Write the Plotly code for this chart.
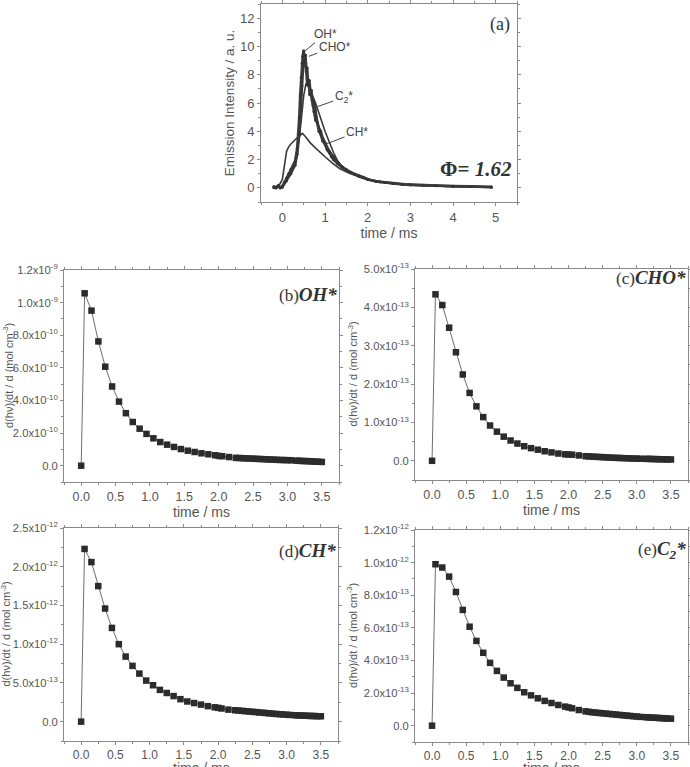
import plotly.graph_objects as go

W, H = 690, 767

# ---------------- panel (a) data: emission intensity (a.u.) vs time (ms)
oh_x = [-0.2,-0.15,-0.1,-0.05,0.0,0.05,0.1,0.15,0.2,0.25,0.3,0.35,0.38,0.4,0.42,0.44,0.46,0.48,0.5,0.52,
        0.54,0.56,0.58,0.6,0.63,0.66,0.7,0.74,0.78,0.82,0.86,0.9,0.95,1.0,1.05,1.1,1.15,1.2,1.3,1.4,
        1.5,1.6,1.7,1.8,1.9,2.0,2.2,2.4,2.6,2.8,3.0,3.3,3.6,4.0,4.4,4.9]
oh_y = [0.1,0.0,0.15,0.0,0.1,0.4,0.7,1.0,1.3,1.5,1.8,2.8,3.8,5.0,6.5,7.8,8.8,9.3,9.7,9.0,
        9.4,8.2,8.5,7.4,7.6,6.7,6.2,5.4,4.8,4.6,4.0,3.8,3.3,3.1,2.7,2.5,2.2,2.0,1.7,1.45,
        1.25,1.1,0.95,0.85,0.75,0.6,0.45,0.38,0.3,0.25,0.22,0.18,0.15,0.12,0.1,0.06]

cho_x = [-0.2,-0.1,0.0,0.1,0.2,0.3,0.35,0.4,0.43,0.46,0.49,0.52,0.55,0.58,0.61,0.64,0.68,0.72,0.76,0.8,
         0.85,0.9,0.95,1.0,1.1,1.2,1.3,1.4,1.5,1.6,1.8,2.0,2.3,2.6,3.0,3.5,4.0,4.5,4.9]
cho_y = [0.0,0.1,0.05,0.5,1.0,1.6,2.4,3.8,5.5,7.2,8.6,9.3,8.8,7.3,7.6,6.6,6.9,5.8,6.0,5.0,
         4.3,4.0,3.5,3.2,2.6,2.2,1.8,1.5,1.3,1.1,0.8,0.6,0.42,0.32,0.22,0.16,0.12,0.09,0.05]

c2_x = [-0.2,0.0,0.1,0.2,0.3,0.35,0.4,0.45,0.5,0.55,0.6,0.65,0.8,1.0,1.2,1.3,1.4,1.6,1.8,2.0,
        2.5,3.0,3.5,4.0,4.5,4.9]
c2_y = [0.0,0.1,0.7,1.3,2.0,2.6,3.6,5.0,6.5,7.3,7.2,7.0,5.8,4.0,2.5,1.9,1.5,1.1,0.8,0.6,
        0.32,0.2,0.14,0.1,0.07,0.05]

ch_x = [-0.2,-0.1,0.0,0.05,0.1,0.15,0.2,0.3,0.4,0.47,0.55,0.65,0.75,0.87,1.0,1.18,1.35,1.57,1.75,1.9,
        2.2,2.5,3.0,3.5,4.0,4.5,4.9]
ch_y = [0.0,0.05,0.6,1.6,2.6,2.9,3.1,3.4,3.7,3.85,3.6,3.2,2.9,2.55,2.2,1.73,1.35,1.03,0.82,0.68,
        0.48,0.33,0.2,0.13,0.09,0.07,0.05]

# ---------------- panels (b)-(e): d(hv)/dt / d vs time (ms)
t = [0, 0.05, 0.15, 0.25, 0.35, 0.45, 0.55, 0.65, 0.75, 0.85, 0.95, 1.05, 1.15, 1.25, 1.35, 1.45,
     1.55, 1.65, 1.75, 1.85, 1.95, 2.0, 2.05, 2.15,
     2.25, 2.3, 2.35, 2.4, 2.45, 2.5, 2.55, 2.6, 2.65, 2.7, 2.75, 2.8, 2.85, 2.9, 2.95, 3.0, 3.05,
     3.13, 3.17, 3.21, 3.25, 3.29, 3.33, 3.37, 3.41, 3.45, 3.5]

oh_rate = [0, 10.57, 9.51, 7.62, 6.07, 4.86, 3.93, 3.22, 2.68, 2.27, 1.95, 1.68, 1.45, 1.29, 1.15, 1.02,
           0.92, 0.84, 0.76, 0.70, 0.64, 0.60, 0.58, 0.53,
           0.48, 0.47, 0.46, 0.45, 0.44, 0.43, 0.42, 0.41, 0.40, 0.39, 0.38, 0.37, 0.36, 0.35, 0.345, 0.34, 0.33,
           0.31, 0.30, 0.29, 0.285, 0.28, 0.27, 0.26, 0.25, 0.24, 0.23]          # x 1e-10
cho_rate = [0, 4.34, 4.06, 3.47, 2.83, 2.25, 1.77, 1.42, 1.14, 0.92, 0.76, 0.63, 0.53, 0.45, 0.38, 0.33,
            0.29, 0.25, 0.22, 0.19, 0.17, 0.165, 0.16, 0.14,
            0.12, 0.115, 0.11, 0.105, 0.10, 0.095, 0.09, 0.085, 0.08, 0.077, 0.074, 0.07, 0.067, 0.064, 0.06, 0.057, 0.055,
            0.052, 0.05, 0.048, 0.046, 0.044, 0.042, 0.04, 0.038, 0.037, 0.035]   # x 1e-13
ch_rate = [0, 2.23, 2.06, 1.75, 1.46, 1.21, 1.00, 0.84, 0.72, 0.62, 0.53, 0.47, 0.41, 0.37, 0.33, 0.29,
           0.26, 0.24, 0.22, 0.20, 0.185, 0.178, 0.17, 0.155,
           0.147, 0.143, 0.139, 0.135, 0.131, 0.127, 0.123, 0.119, 0.115, 0.111, 0.107, 0.103, 0.099, 0.096, 0.093, 0.089, 0.086,
           0.082, 0.08, 0.079, 0.077, 0.076, 0.074, 0.073, 0.072, 0.07, 0.069]   # x 1e-12
c2_rate = [0, 0.99, 0.97, 0.914, 0.82, 0.71, 0.607, 0.52, 0.447, 0.385, 0.336, 0.295, 0.26, 0.232, 0.205, 0.186,
           0.168, 0.152, 0.139, 0.127, 0.117, 0.112, 0.107, 0.096,
           0.088, 0.085, 0.082, 0.08, 0.078, 0.076, 0.074, 0.072, 0.07, 0.068, 0.066, 0.064, 0.062, 0.06, 0.058, 0.056, 0.054,
           0.052, 0.051, 0.05, 0.049, 0.048, 0.047, 0.046, 0.045, 0.044, 0.043]  # x 1e-12

b_ticks = [0, 2e-10, 4e-10, 6e-10, 8e-10, 1.0e-9, 1.2e-9]
b_labels = ["0.0", "2.0x10<sup>-10</sup>", "4.0x10<sup>-10</sup>", "6.0x10<sup>-10</sup>",
            "8.0x10<sup>-10</sup>", "1.0x10<sup>-9</sup>", "1.2x10<sup>-9</sup>"]
c_ticks = [0, 1e-13, 2e-13, 3e-13, 4e-13, 5e-13]
c_labels = ["0.0", "1.0x10<sup>-13</sup>", "2.0x10<sup>-13</sup>", "3.0x10<sup>-13</sup>",
            "4.0x10<sup>-13</sup>", "5.0x10<sup>-13</sup>"]
d_ticks = [0, 5e-13, 1.0e-12, 1.5e-12, 2.0e-12, 2.5e-12]
d_labels = ["0.0", "5.0x10<sup>-13</sup>", "1.0x10<sup>-12</sup>", "1.5x10<sup>-12</sup>",
            "2.0x10<sup>-12</sup>", "2.5x10<sup>-12</sup>"]
e_ticks = [0, 2e-13, 4e-13, 6e-13, 8e-13, 1.0e-12, 1.2e-12]
e_labels = ["0.0", "2.0x10<sup>-13</sup>", "4.0x10<sup>-13</sup>", "6.0x10<sup>-13</sup>",
            "8.0x10<sup>-13</sup>", "1.0x10<sup>-12</sup>", "1.2x10<sup>-12</sup>"]
t_ticks = [0, 0.5, 1.0, 1.5, 2.0, 2.5, 3.0, 3.5]
t_labels = ["0.0", "0.5", "1.0", "1.5", "2.0", "2.5", "3.0", "3.5"]

AX = "#8a8a8a"
TXT = "#555555"
DARK = "#2b2b2b"
SANS = "Arial, Liberation Sans, sans-serif"
SERIF = "Liberation Serif, Times New Roman, serif"

def px_dom_x(a, b):
    return [a / W, b / W]

def px_dom_y(top, bottom):
    return [1 - bottom / H, 1 - top / H]

fig = go.Figure()

# panel (a)
for xs, ys, w, m in [(ch_x, ch_y, 1.6, False), (c2_x, c2_y, 1.6, False),
                     (cho_x, cho_y, 2.4, True), (oh_x, oh_y, 2.8, True)]:
    fig.add_trace(go.Scatter(x=xs, y=ys, mode="lines+markers" if m else "lines",
                             line=dict(color="#3a3a3a", width=w),
                             marker=dict(size=3, color="#333333"),
                             xaxis="x", yaxis="y", showlegend=False))

panels = [
    ("2", oh_rate, 1e-10),
    ("3", cho_rate, 1e-13),
    ("4", ch_rate, 1e-12),
    ("5", c2_rate, 1e-12),
]
for k, vals, sc in panels:
    fig.add_trace(go.Scatter(x=t, y=[v * sc for v in vals], mode="lines+markers",
                             line=dict(color="#6e6e6e", width=1),
                             marker=dict(symbol="square", size=6.5, color=DARK),
                             xaxis="x" + k, yaxis="y" + k, showlegend=False))

def xax(dom, anchor, rng, tickvals, ticktext, minor_dt, size=12.5, title="time / ms"):
    return dict(domain=dom, anchor=anchor, range=rng, tickmode="array", tickvals=tickvals, ticktext=ticktext,
                showline=True, linecolor=AX, linewidth=1, mirror="ticks", ticks="outside", ticklen=3,
                tickcolor=AX, showgrid=False, zeroline=False, automargin=False,
                tickfont=dict(family=SANS, size=size, color=TXT),
                minor=dict(tickmode="linear", tick0=0, dtick=minor_dt, ticklen=2, tickcolor=AX, ticks="outside"),
                title=dict(text=title, font=dict(family=SANS, size=14, color=TXT), standoff=0))

def yax(dom, anchor, rng, tickvals, ticktext, minor_dt, title, tsize, size=11.2):
    return dict(domain=dom, anchor=anchor, range=rng, tickmode="array", tickvals=tickvals, ticktext=ticktext,
                showline=True, linecolor=AX, linewidth=1, mirror="ticks", ticks="outside", ticklen=3,
                tickcolor=AX, showgrid=False, zeroline=False, automargin=False,
                tickfont=dict(family=SANS, size=size, color=TXT),
                minor=dict(tickmode="linear", tick0=0, dtick=minor_dt, ticklen=2, tickcolor=AX, ticks="outside"),
                title=dict(text=title, font=dict(family=SANS, size=tsize, color=TXT), standoff=2))

ytitle = "d(h\u03bd)/dt / d (mol cm<sup>-3</sup>)"

layout = dict(
    width=W, height=H, margin=dict(l=0, r=0, t=0, b=0),
    paper_bgcolor="white", plot_bgcolor="white",
    xaxis=xax(px_dom_x(261, 517), "y", [-0.5, 5.5], [0, 1, 2, 3, 4, 5], ["0", "1", "2", "3", "4", "5"], 0.5, 13),
    yaxis=yax(px_dom_y(4, 202), "x", [-1, 13], [0, 2, 4, 6, 8, 10, 12],
              ["0", "2", "4", "6", "8", "10", "12"], 1, "Emission Intensity / a. u.", 13.5, 13),
    xaxis2=xax(px_dom_x(64, 339), "y2", [-0.25, 3.75], t_ticks, t_labels, 0.25),
    yaxis2=yax(px_dom_y(270, 482), "x2", [-1e-10, 1.2e-9], b_ticks, b_labels, 1e-10, "", 11),
    xaxis3=xax(px_dom_x(415, 688), "y3", [-0.25, 3.75], t_ticks, t_labels, 0.25),
    yaxis3=yax(px_dom_y(269, 480), "x3", [-0.5e-13, 5e-13], c_ticks, c_labels, 0.5e-13, "", 11),
    xaxis4=xax(px_dom_x(64, 338), "y4", [-0.25, 3.75], t_ticks, t_labels, 0.25, size=12, title=""),
    yaxis4=yax(px_dom_y(528, 741), "x4", [-0.25e-12, 2.5e-12], d_ticks, d_labels, 0.25e-12, "", 11),
    xaxis5=xax(px_dom_x(415, 688), "y5", [-0.25, 3.75], t_ticks, t_labels, 0.25, size=12, title=""),
    yaxis5=yax(px_dom_y(530, 742), "x5", [-0.1e-12, 1.2e-12], e_ticks, e_labels, 0.1e-12, "", 11),
)
fig.update_layout(**layout)

ann = []
# species arrows in (a)
for txt, tx, ty, ax_, ay_ in [("OH*", 0.535, 9.69, 1.01, 10.87),
                              ("CHO*", 0.62, 9.3, 1.23, 9.98),
                              ("C<sub>2</sub>*", 0.83, 5.75, 1.44, 6.41),
                              ("CH*", 1.0, 3.07, 1.75, 3.94)]:
    ann.append(dict(x=tx, y=ty, ax=ax_, ay=ay_, xref="x", yref="y", axref="x", ayref="y",
                    text=txt, showarrow=True, arrowhead=0, arrowwidth=1, arrowcolor="#444444",
                    font=dict(family=SANS, size=12, color="#444444")))
ann.append(dict(x=0.98, y=0.96, xref="x domain", yref="y domain", xanchor="right", yanchor="top",
                text="(a)", showarrow=False, font=dict(family=SERIF, size=18, color="#333333")))
ann.append(dict(x=0.99, y=0.165, xref="x domain", yref="y domain", xanchor="right", yanchor="middle",
                text="<b>\u03a6= <i>1.62</i></b>", showarrow=False,
                font=dict(family=SERIF, size=21, color="#333333")))

for k, lab, sp, yy in [("2", "(b)", "OH*", 0.885), ("3", "(c)", "CHO*", 0.96),
                       ("4", "(d)", "CH*", 0.895), ("5", "(e)", "C<sub>2</sub>*", 0.905)]:
    ann.append(dict(x=1.0, y=yy, xref="x%s domain" % k, yref="y%s domain" % k, xanchor="right",
                    yanchor="middle", showarrow=False,
                    text="<span style='font-size:17px'>%s</span><b><i>%s</i></b>" % (lab, sp),
                    font=dict(family=SERIF, size=19, color="#333333")))

# y titles of panels (b)-(e), placed at the page positions of the reference
for k, xpx in [("2", 8), ("3", 352), ("4", 5), ("5", 352)]:
    ann.append(dict(x=xpx / W, y=0.5, xref="paper", yref="y%s domain" % k, xanchor="center",
                    yanchor="middle", textangle=-90, showarrow=False, text=ytitle,
                    font=dict(family=SANS, size=11, color=TXT)))

# bottom-row x titles, partly cut by the page edge as in the reference
for k in ["4", "5"]:
    ann.append(dict(x=0.5, y=1 - 768 / H, xref="x%s domain" % k, yref="paper", xanchor="center",
                    yanchor="middle", showarrow=False, text="time / ms", borderpad=0,
                    font=dict(family=SANS, size=14, color=TXT)))

fig.update_layout(annotations=ann)
fig.write_html("out.html")
